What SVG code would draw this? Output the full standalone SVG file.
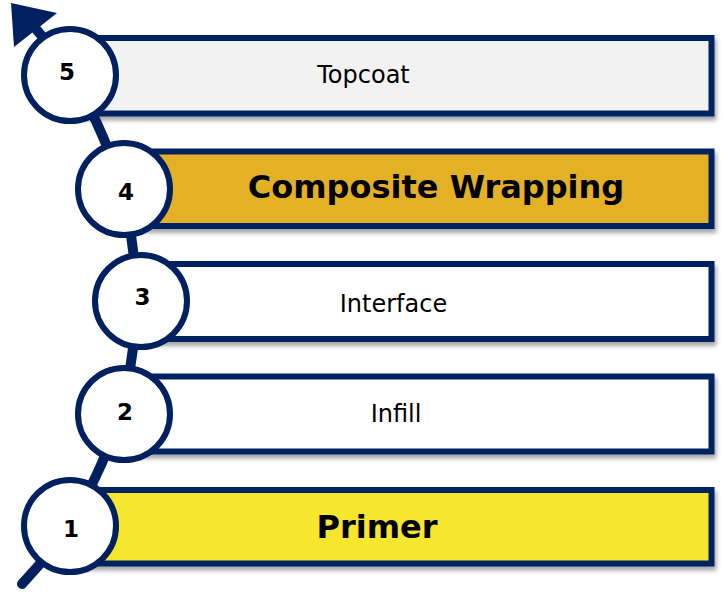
<svg xmlns="http://www.w3.org/2000/svg" width="725" height="592" viewBox="0 0 725 592">
<defs>
<filter id="sh" x="-5%" y="-20%" width="110%" height="150%">
<feDropShadow dx="2" dy="4" stdDeviation="2" flood-color="#000" flood-opacity="0.35"/>
</filter>
<style>
.box{stroke:#002060;stroke-width:6;filter:url(#sh)}
.circ{fill:#fff;stroke:#002060;stroke-width:6}
.num{font-family:"DejaVu Sans",Verdana,sans-serif;font-weight:bold;font-size:23px;fill:#000;text-anchor:middle}
.lbl{font-family:"DejaVu Sans",Verdana,sans-serif;font-size:24px;fill:#000;text-anchor:middle}
.big{font-family:"DejaVu Sans",Verdana,sans-serif;font-weight:bold;font-size:32px;fill:#000;text-anchor:middle}
</style>
</defs>
<g id="boxes">
<rect class="box" x="70" y="38" width="641.5" height="75.5" fill="#F2F2F2"/>
<rect class="box" x="124" y="151.5" width="587.5" height="74.5" fill="#E4B125"/>
<rect class="box" x="141" y="264" width="570.5" height="75" fill="#FFFFFF"/>
<rect class="box" x="124" y="376.5" width="587.5" height="75" fill="#FFFFFF"/>
<rect class="box" x="70" y="490" width="641.5" height="73.5" fill="#F6E72F"/>
</g>
<g id="connectors">
<path d="M 22 584 A 414 414 0 0 0 36 29" fill="none" stroke="#002060" stroke-width="10" stroke-linecap="round"/>
<polygon points="11,3 57,13 14,47" fill="#002060"/>
</g>
<g id="node5"><circle class="circ" cx="70" cy="75" r="46"/><text class="num" x="67" y="80">5</text><text class="lbl" x="363.5" y="83">Topcoat</text></g>
<g id="node4"><circle class="circ" cx="124" cy="189" r="46"/><text class="num" x="126" y="200">4</text><text class="big" x="436" y="198">Composite Wrapping</text></g>
<g id="node3"><circle class="circ" cx="141" cy="301" r="46"/><text class="num" x="142.5" y="305">3</text><text class="lbl" x="393.5" y="312">Interface</text></g>
<g id="node2"><circle class="circ" cx="124" cy="414" r="46"/><text class="num" x="125" y="420">2</text><text class="lbl" x="396" y="422">Infill</text></g>
<g id="node1"><circle class="circ" cx="70" cy="526" r="46"/><text class="num" x="71" y="537">1</text><text class="big" x="377" y="538">Primer</text></g>
</svg>
